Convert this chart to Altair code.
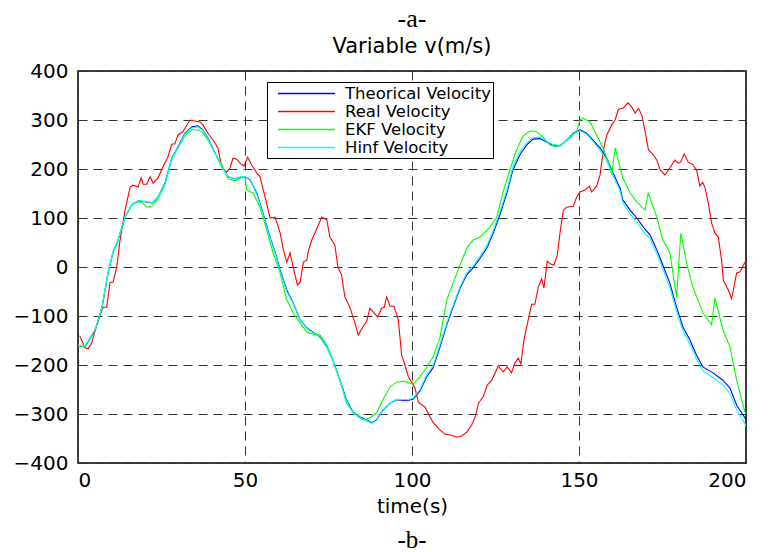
import altair as alt
import pandas as pd

series_names = ["Theorical Velocity", "Real Velocity", "EKF Velocity", "Hinf Velocity"]
series_colors = ["#0000ff", "#ff0000", "#00ff00", "#00ffff"]

theo_t = [0, 2.1, 5.1, 6.0, 7.2, 9.0, 10.5, 12, 14.1, 16.1, 18, 20.1, 22.2, 24, 26, 28.1, 29.9, 32, 34.1, 35.9,
          37.4, 38.9, 41, 43.1, 44.9, 47, 49.1, 50, 51.5, 53.5, 55.4, 57.5, 59.5, 60.5, 62.5, 64.4, 66.5, 68.5,
          70.4, 72.5, 74.5, 76.3, 78.4, 80.4, 82.3, 84.4, 86.4, 87.9, 89.4, 91.3, 93.4, 95.4, 98.4, 100.3,
          102.4, 104.4, 106.3, 108.4, 110.4, 112.3, 114.4, 116.4, 118.3, 120.4, 122.4, 124.3, 126.3, 128.4,
          130.2, 132.3, 134.3, 136.2, 138.3, 140.3, 142.2, 144.3, 146.3, 148.2, 150.3, 152.3, 154.2, 156.3,
          158.3, 160.2, 162.3, 163.1, 165.3, 167.3, 169.2, 171.3, 173.3, 174.3, 177.2, 179.2, 181.1, 183.2,
          185.2, 187.1, 190.1, 193.1, 195.2, 197.2, 199.7, 200]
theo_v = [-160, -163, -129, -112, -82, -12, 30, 55, 102, 127, 135, 133, 131, 143, 171, 222, 245, 273, 286, 288,
          280, 263, 233, 204, 184, 180, 184, 184, 178, 151, 110, 61, 20, -6, -47, -73, -108, -124,
          -133, -143, -163, -190, -231, -271, -296, -306, -312, -318, -312, -292, -278, -271, -273, -270,
          -253, -224, -206, -163, -118, -82, -43, -16, -2, 18, 39, 69, 106, 151,
          198, 229, 249, 261, 262, 255, 249, 247, 259, 273, 280, 273, 259, 243,
          222, 192, 161, 137, 116, 100, 82, 65, 35, 18, -33, -82, -122, -149,
          -180, -204, -216, -231, -247, -282, -308, -312]

real_t = [0.5, 2.1, 3.0, 4.1, 6.0, 7.5, 8.6, 9.6, 10.5, 11.6, 12.6, 14.1, 15.6, 16.5, 18.0, 18.9, 19.5, 20.6,
          21.6, 22.5, 24.0, 25.4, 26.9, 28.1, 29.0, 29.9, 31.4, 33.5, 35.0, 36.5, 37.4, 38.9, 41.0, 41.9, 43.0,
          44.5, 45.5, 46.4, 47.5, 48.5, 49.7, 50.8, 52.0, 53.5, 54.5, 56.0, 57.5, 59.0, 60.5, 61.5, 62.5, 63.5,
          64.4, 65.7, 66.5, 67.5, 68.5, 68.9, 70.0, 73.0, 74.5, 75.4, 76.9, 77.8, 78.9, 79.9, 81.4, 82.9, 83.9,
          85.3, 86.4, 87.4, 88.4, 89.7, 90.9, 91.7, 92.4, 93.4, 94.6, 95.9, 96.9, 97.9, 98.9, 99.9, 100.9,
          101.9, 103.9, 105.4, 106.4, 108.4, 109.9, 111.4, 113.4, 114.9, 116.4, 117.9, 118.9, 119.9, 121.3,
          122.5, 123.9, 124.9, 125.8, 127.3, 128.5, 129.8, 130.8, 131.8, 132.6, 133.5, 134.8, 135.8, 136.8,
          137.8, 138.8, 139.5, 140.5, 141.5, 142.5, 143.5, 144.3, 145.3, 146.3, 148.3, 149.3, 150.3, 151.8,
          153.1, 153.8, 155.3, 156.3, 157.3, 158.3, 159.8, 160.8, 161.8, 163.2, 164.7, 165.8, 166.8, 167.8,
          168.8, 169.8, 170.8, 172.3, 173.3, 174.3, 175.7, 177.2, 178.7, 179.7, 180.4, 181.5, 182.7, 184.0,
          185.2, 186.2, 187.0, 187.7, 188.7, 189.7, 190.7, 191.7, 192.7, 193.2, 194.7, 195.7, 197.2, 198.2,
          199.7]
real_v = [-140, -165, -167, -155, -108, -82, -82, -31, -31, 0, 55, 116, 163, 167, 163, 182, 169, 169,
          184, 171, 182, 204, 224, 251, 251, 269, 276, 300, 298, 296, 290, 273, 253, 243, 204,
          194, 202, 222, 220, 212, 206, 224, 208, 192, 184, 143, 100, 102, 70, 35, 10, 29,
          0, -37, -31, 10, 14, 31, 55, 102, 96, 61, 45, 0, -16, -61, -82, -114, -139,
          -122, -112, -84, -92, -102, -84, -82, -61, -80, -80, -108, -180, -200, -224, -235, -247,
          -276, -286, -306, -318, -333, -341, -343, -347, -345, -337, -322, -306, -278, -265,
          -241, -231, -216, -202, -214, -204, -216, -196, -186, -198, -149, -108, -76, -76,
          -41, -24, -43, 12, 6, 4, 24, 69, 116, 122, 124, 143, 153, 157,
          165, 153, 165, 188, 239, 269, 290, 300, 322, 324, 335, 327, 314, 324,
          310, 276, 239, 229, 218, 198, 188, 202, 218, 212, 214, 231, 214, 210,
          198, 165, 173, 163, 131, 90, 69, 61, 14, -27, -47, -65, -12, -10,
          10]

ekf_t = [0, 2.1, 5.1, 6.0, 7.2, 9.0, 10.5, 12, 14.1, 16.1, 18, 19.5, 20.6, 22.2, 24, 26, 28.1, 29.9, 32, 34.1,
         35.9, 37.4, 38.9, 41, 43.1, 44.9, 47, 49.1, 50, 50.5, 52.4, 54.5, 56.5, 58.4, 60.5, 62.5, 64.4, 66.5,
         68.5, 70.4, 72.5, 74.5, 76.3, 78.4, 80.4, 82.3, 85.3, 87.4, 89.4, 91.3, 93.4, 95.4, 97.3, 100.3,
         102.4, 104.4, 106.3, 108.4, 110.4, 112.3, 114.4, 116.4, 118.3, 120.4, 123.4, 125.4, 127.2, 129.3,
         131.3, 133.2, 135.3, 137.3, 139.2, 141.3, 143.3, 145.2, 147.3, 149.3, 150.3, 151.2, 153.3, 155.3,
         157.2, 159.3, 159.8, 160.8, 163.1, 165.3, 167.3, 169.8, 170.7, 173.3, 175.1, 177.2, 179.2, 180.5,
         182.2, 184.1, 187.1, 189.7, 190.7, 193.1, 195.2, 197.2, 199.7, 200]
ekf_v = [-160, -163, -128, -110, -82, -12, 30, 55, 102, 127, 133, 130, 122, 125, 140, 168, 220, 242, 268, 280,
         280, 274, 259, 232, 208, 180, 176, 183, 184, 157, 151, 122, 76, 29, -12, -67, -94, -114,
         -133, -137, -139, -159, -190, -231, -278, -296, -312, -308, -298, -271, -245, -235, -233, -239,
         -224, -204, -184, -143, -67, -33, 4, 39, 55, 61, 82, 102, 151, 198,
         239, 267, 278, 276, 265, 249, 245, 253, 263, 276, 300, 304, 296, 269,
         243, 204, 188, 243, 182, 151, 133, 116, 151, 102, 55, 29, -61, 69,
         8, -41, -94, -118, -63, -129, -163, -231, -296, -300]

hinf_t = theo_t
hinf_v = [-160, -161, -127, -110, -80, -10, 32, 56, 102, 127, 135, 134, 131, 143, 170, 221, 244, 271, 284, 286,
          279, 262, 232, 203, 184, 180, 185, 184, 177, 149, 108, 59, 18, -9, -50, -74, -108, -125,
          -134, -144, -164, -192, -233, -273, -298, -308, -314, -319, -313, -293, -278, -270, -271, -268,
          -250, -220, -202, -158, -114, -78, -40, -12, 2, 22, 43, 74, 112, 157,
          204, 234, 253, 264, 265, 257, 250, 248, 259, 272, 278, 271, 256, 239,
          217, 186, 155, 131, 108, 92, 73, 57, 27, 10, -42, -90, -130, -157,
          -188, -212, -226, -241, -258, -292, -320, -325]

x_ticks = [0, 50, 100, 150, 200]
y_ticks = [-400, -300, -200, -100, 0, 100, 200, 300, 400]

frames = []
for name, t, v in zip(series_names, [theo_t, real_t, ekf_t, hinf_t], [theo_v, real_v, ekf_v, hinf_v]):
    frames.append(pd.DataFrame({"t": t, "v": v, "series": name}))
df = pd.concat(frames, ignore_index=True)

FONT = "DejaVu Sans"
SERIF = "Liberation Serif"

x_enc = alt.X("t:Q", scale=alt.Scale(domain=[0, 200], nice=False, zero=False),
              axis=alt.Axis(values=x_ticks, title="time(s)", format="d"))
y_enc = alt.Y("v:Q", scale=alt.Scale(domain=[-400, 400], nice=False),
              axis=alt.Axis(values=y_ticks, title=None, format="d"))
color_enc = alt.Color("series:N",
                      scale=alt.Scale(domain=series_names, range=series_colors),
                      legend=alt.Legend(title=None, orient="none", legendX=189, legendY=11,
                                        symbolType="M-3.4,0H3.4", symbolSize=280, symbolStrokeWidth=1.3,
                                        symbolOffset=28, labelOffset=29,
                                        labelFont=FONT, labelFontSize=16.5, labelColor="black",
                                        strokeColor="black", fillColor="white", padding=2,
                                        rowPadding=0))

layers = []
for s in series_names:
    layers.append(
        alt.Chart(df).transform_filter(alt.datum.series == s)
        .mark_line(strokeWidth=1.1, clip=True)
        .encode(x=x_enc, y=y_enc, color=color_enc)
    )

b_df = pd.DataFrame({"label": ["-b-"]})
b_text = alt.Chart(b_df).mark_text(font=SERIF, fontSize=25, color="black", baseline="alphabetic").encode(
    x=alt.value(334), y=alt.value(477), text="label:N")

chart = alt.layer(*layers, b_text).properties(
    width=668, height=392,
    title=alt.TitleParams(text="-a-", subtitle="Variable v(m/s)", font=SERIF, fontSize=26, fontWeight="normal",
                          color="black", subtitleFont=FONT, subtitleFontSize=21, subtitleColor="black",
                          subtitlePadding=4, offset=4, anchor="middle", frame="group"),
    autosize="none",
    padding={"left": 78, "top": 71, "right": 27, "bottom": 89},
).configure_view(stroke="black", strokeWidth=1.5).configure_axis(
    grid=True, gridColor="#333333", gridDash=[9, 6], gridWidth=1, gridOpacity=1,
    domain=False, ticks=False, labelFont=FONT, labelFontSize=20, labelColor="black",
    titleFont=FONT, titleFontSize=20, titleColor="black", titleFontWeight="normal"
).configure_axisX(labelPadding=7, titlePadding=6).configure_axisY(labelPadding=10)

chart.save("out.html", embed_options={"renderer": "svg", "actions": False})
